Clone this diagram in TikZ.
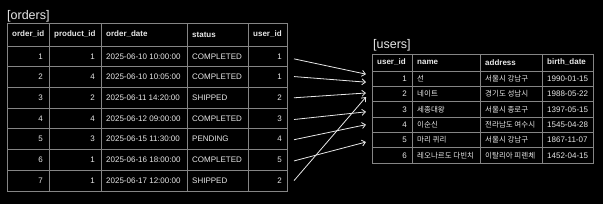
\documentclass[tikz,border=0pt]{standalone}
\usepackage{fontspec}
\setmainfont{Liberation Sans}
\newfontfamily\krfont{Noto Sans CJK KR}
\usetikzlibrary{arrows.meta}
\definecolor{gridc}{HTML}{858585}
\definecolor{txtc}{HTML}{E8E8E8}
\begin{document}
\begin{tikzpicture}[x=1pt,y=-1pt,
  grid/.style={draw=gridc, line width=0.8pt},
  cell/.style={text=txtc, font=\fontsize{8}{9}\selectfont, inner sep=0pt},
  hcell/.style={cell, font=\fontsize{8}{9}\selectfont\bfseries},
  krcell/.style={cell, font=\fontsize{7.5}{9}\selectfont\krfont},
  tabtitle/.style={text=txtc, font=\fontsize{12.5}{14}\selectfont, inner sep=0pt, anchor=west},
  conn/.style={draw=txtc, line width=0.8pt, -{Straight Barb[length=3.5pt,width=6pt]}}]
\fill[black] (0,0) rectangle (603,204);
\useasboundingbox (0,0) rectangle (603,204);

% ---------- orders ----------
\node[tabtitle] (otitle) at (7,16) {[orders]};
\draw[grid] (7,23) rectangle (287,191);
\foreach \y in {46,66.71,87.43,108.14,128.86,149.57,170.29}
  \draw[grid] (7,\y) -- (287,\y);
\foreach \x in {49,101,187,248}
  \draw[grid] (\x,23) -- (\x,191);
\node[hcell, anchor=west] (oh1) at (12,34.5) {order\_id};
\node[hcell, anchor=west] (oh2) at (54,34.5) {product\_id};
\node[hcell, anchor=west] (oh3) at (106,34.5) {order\_date};
\node[hcell, anchor=west] (oh4) at (192,34.5) {status};
\node[hcell, anchor=west] (oh5) at (253,34.5) {user\_id};
\foreach \i/\p/\d/\s/\u in {
  1/1/2025-06-10 10:00:00/COMPLETED/1,
  2/4/2025-06-10 10:05:00/COMPLETED/1,
  3/2/2025-06-11 14:20:00/SHIPPED/2,
  4/4/2025-06-12 09:00:00/COMPLETED/3,
  5/3/2025-06-15 11:30:00/PENDING/4,
  6/1/2025-06-16 18:00:00/COMPLETED/5,
  7/1/2025-06-17 12:00:00/SHIPPED/2}{
  \pgfmathsetmacro{\ry}{46+20.714*(\i-0.5)}
  \node[cell, anchor=east] (o\i-id) at (43,\ry) {\i};
  \node[cell, anchor=east] (o\i-pid) at (95,\ry) {\p};
  \node[cell, anchor=west] (o\i-date) at (106,\ry) {\d};
  \node[cell, anchor=west] (o\i-st) at (192,\ry) {\s};
  \node[cell, anchor=east] (o\i-uid) at (282,\ry) {\u};
  \coordinate (os\i) at ([xshift=12pt]o\i-uid.east);
}

% ---------- users ----------
\node[tabtitle] (utitle) at (373,45) {[users]};
\draw[grid] (372,54) rectangle (593,163);
\foreach \y in {71,86.33,101.67,117,132.33,147.67}
  \draw[grid] (372,\y) -- (593,\y);
\foreach \x in {412,480,542}
  \draw[grid] (\x,54) -- (\x,163);
\node[hcell, anchor=west] (uh1) at (377,62.5) {user\_id};
\node[hcell, anchor=west] (uh2) at (417,62.5) {name};
\node[hcell, anchor=west] (uh3) at (485,62.5) {address};
\node[hcell, anchor=west] (uh4) at (547,62.5) {birth\_date};
\foreach \j/\n/\a/\b in {
  1/선/서울시 강남구/1990-01-15,
  2/네이트/경기도 성남시/1988-05-22,
  3/세종대왕/서울시 종로구/1397-05-15,
  4/이순신/전라남도 여수시/1545-04-28,
  5/마리 퀴리/서울시 강남구/1867-11-07,
  6/레오나르도 다빈치/이탈리아 피렌체/1452-04-15}{
  \pgfmathsetmacro{\ry}{71+15.333*(\j-0.5)}
  \node[cell, anchor=east] (u\j-uid) at (407,\ry) {\j};
  \node[krcell, anchor=west] (u\j-name) at (417,\ry) {\n};
  \node[krcell, anchor=west] (u\j-addr) at (485,\ry) {\a};
  \node[cell, anchor=west] (u\j-bd) at (547,\ry) {\b};
  \coordinate (ue\j) at ([xshift=-41pt]u\j-uid.east);
}

% ---------- connectors ----------
\draw[conn] ([yshift=-2.5pt]os1) -- ([yshift=4.5pt]ue1);
\draw[conn] ([yshift=0.5pt]os2) -- ([yshift=-3.5pt]ue1);
\draw[conn] (os3) -- ([yshift=1pt]ue2);
\draw[conn] ([yshift=-1pt]os4) -- ([yshift=-2.5pt]ue3);
\draw[conn] ([yshift=-0.5pt]os5) -- (ue4);
\draw[conn] ([yshift=-1pt]os6) -- ([yshift=-2pt]ue5);
\draw[conn] (os7) -- ([yshift=-3pt]ue2);
\end{tikzpicture}
\end{document}
